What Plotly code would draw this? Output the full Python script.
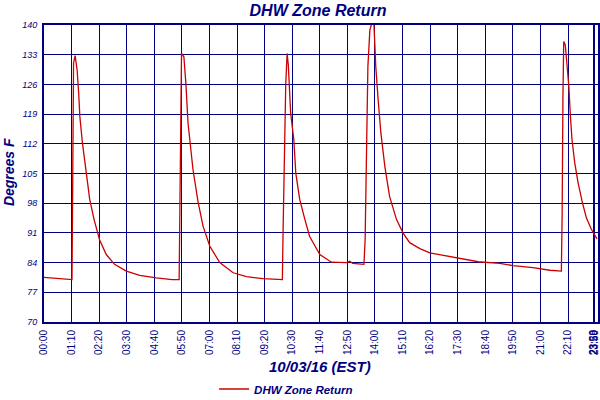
import plotly.graph_objects as go

# ── Data ──────────────────────────────────────────────────────────────────────
# minutes after midnight, temperature in degrees F
minutes = [0, 14, 71, 72, 73, 75, 79, 84, 88, 91, 97.5, 106, 116, 127, 141, 158,
           179, 209, 243, 285, 325, 343, 344, 345, 346.5, 349, 355, 360, 365.5,
           371.6, 378, 391, 403.6, 420.6, 446, 480, 514, 556, 605, 606.6, 609.7,
           613.5, 617, 620, 626, 630.5, 634, 639, 649, 662, 674, 700, 729.5,
           767.5, 776, 783.5, 812, 815, 818, 822, 827, 833.5, 837, 839.4, 842,
           848, 855, 865, 877, 894.5, 911, 928, 954, 979, 1013, 1051, 1102, 1157,
           1190, 1241, 1284, 1313, 1315, 1317, 1319, 1323, 1328.5, 1332, 1336,
           1340, 1347, 1355.5, 1366.5, 1376.7, 1389.4, 1403.6]
temps = [80.5, 80.4, 80.0, 92.0, 117.5, 131.0, 132.8, 129.4, 124.0, 118.4, 112.2,
         105.9, 98.9, 94.2, 89.4, 85.9, 83.6, 82.0, 81.0, 80.4, 80.0, 80.0, 88.3,
         105.0, 123.5, 133.3, 132.5, 126.3, 116.9, 111.4, 106.0, 98.3, 92.6, 87.9,
         84.0, 81.6, 80.7, 80.2, 80.0, 90.6, 112.2, 125.9, 133.3, 130.6, 119.2,
         115.3, 113.0, 105.1, 98.9, 94.2, 90.2, 85.9, 84.1, 84.0, 84.3, 83.8, 83.6,
         89.4, 112.6, 130.2, 138.8, 141.0, 141.0, 134.1, 130.2, 122.4, 114.5, 106.7,
         99.6, 94.2, 91.0, 88.7, 87.3, 86.3, 85.7, 85.1, 84.2, 83.8, 83.3, 82.8,
         82.2, 82.0, 95.3, 122.8, 136.1, 135.3, 129.0, 125.5, 118.4, 113.0, 107.5,
         102.8, 98.1, 94.5, 91.8, 89.6]

x_tickvals = [0, 70, 140, 210, 280, 350, 420, 490, 560, 630, 700, 770, 840, 910,
              980, 1050, 1120, 1190, 1260, 1330, 1394, 1396, 1398]
x_ticktext = ["00:00", "01:10", "02:20", "03:30", "04:40", "05:50", "07:00", "08:10",
              "09:20", "10:30", "11:40", "12:50", "14:00", "15:10", "16:20", "17:30",
              "18:40", "19:50", "21:00", "22:10", "23:20", "23:58", "23:59"]
y_tickvals = [70, 77, 84, 91, 98, 105, 112, 119, 126, 133, 140]

NAVY = "#000080"
RED = "#CC0000"
FONT = "Liberation Sans"

fig = go.Figure()

fig.add_trace(go.Scatter(
    x=minutes,
    y=temps,
    mode="lines",
    name="DHW Zone Return",
    line=dict(color=RED, width=1.3),
))

fig.update_layout(
    width=600,
    height=400,
    margin=dict(l=44, r=2, t=25, b=78, autoexpand=False),
    plot_bgcolor="white",
    paper_bgcolor="white",
    title=dict(
        text="DHW Zone Return",
        font=dict(family=FONT, size=16, color=NAVY, style="italic", weight="bold"),
        x=0.53, xanchor="center",
        y=0.975, yanchor="middle",
        automargin=False,
    ),
    xaxis=dict(
        range=[0, 1406],
        tickvals=x_tickvals,
        ticktext=x_ticktext,
        tickangle=-90,
        tickfont=dict(family=FONT, size=10, color=NAVY),
        ticklabeloverflow="allow",
        ticklabelstandoff=2,
        showgrid=True,
        gridcolor=NAVY,
        gridwidth=1.3,
        showline=True,
        linecolor=NAVY,
        linewidth=2,
        mirror=True,
        zeroline=False,
        ticks="",
        automargin=False,
    ),
    yaxis=dict(
        range=[70, 140],
        tickvals=y_tickvals,
        tickfont=dict(family=FONT, size=9, color=NAVY, style="italic"),
        ticklabelstandoff=3,
        showgrid=True,
        gridcolor=NAVY,
        gridwidth=1.3,
        showline=True,
        linecolor=NAVY,
        linewidth=2,
        mirror=True,
        zeroline=False,
        ticks="",
        automargin=False,
    ),
    showlegend=True,
    legend=dict(
        orientation="h",
        x=0.307, xanchor="left",
        y=-0.2256, yanchor="middle",
        font=dict(family=FONT, size=11.5, color=NAVY, style="italic", weight="bold"),
        itemwidth=30,
        bgcolor="rgba(0,0,0,0)",
    ),
    annotations=[
        dict(
            text="10/03/16 (EST)",
            xref="paper", yref="paper",
            x=0.498, y=-0.1515, yanchor="middle", xanchor="center",
            showarrow=False,
            font=dict(family=FONT, size=15, color=NAVY, style="italic", weight="bold"),
        ),
        dict(
            text="Degrees F",
            xref="paper", yref="paper",
            x=-0.063, y=0.505, xanchor="center", yanchor="middle",
            textangle=-90,
            showarrow=False,
            font=dict(family=FONT, size=14, color=NAVY, style="italic", weight="bold"),
        ),
    ],
)

# the page's default 8px body margin would shift the chart, so drop it
fig.write_html(
    "out.html",
    config={"displayModeBar": False},
    post_script="document.body.style.margin='0';",
)
